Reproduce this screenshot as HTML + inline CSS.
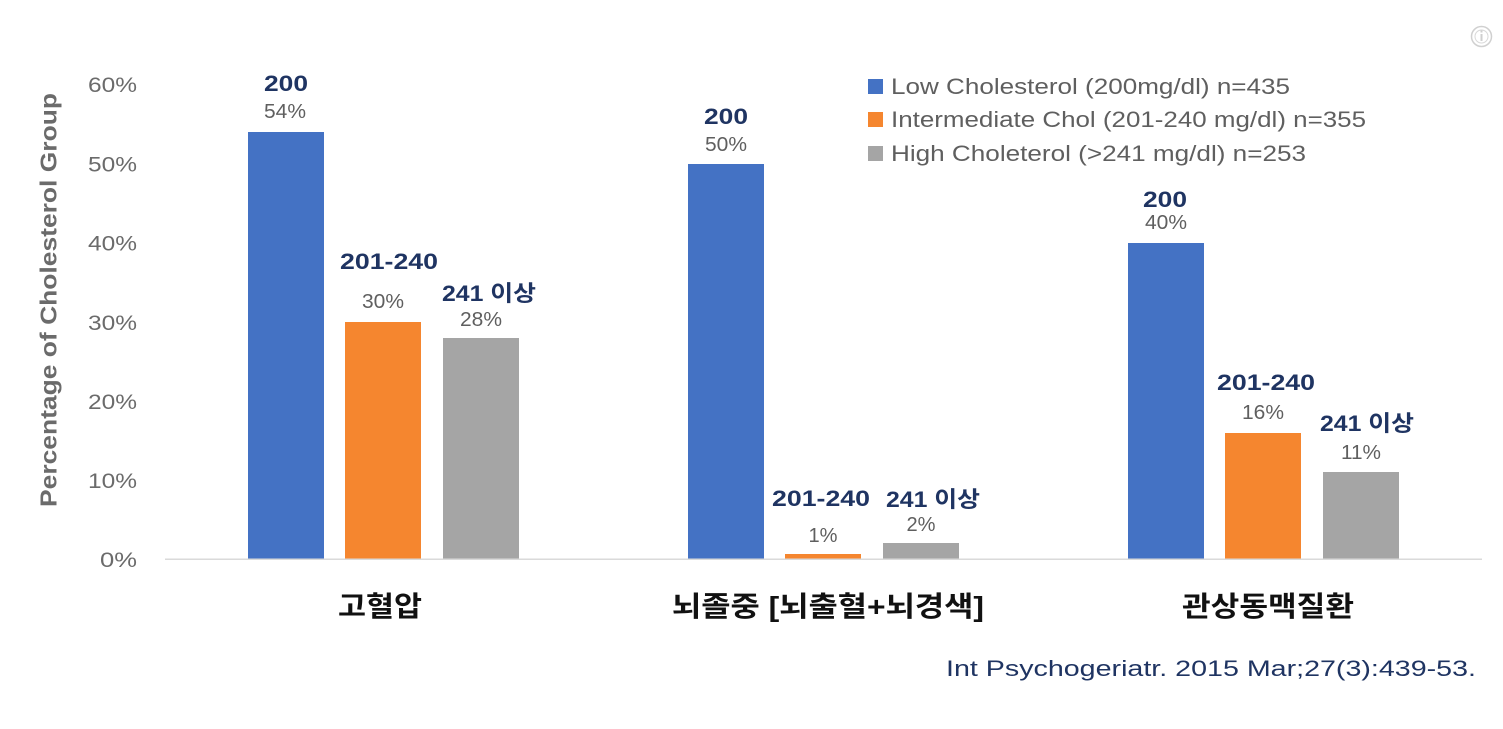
<!DOCTYPE html>
<html>
<head>
<meta charset="utf-8">
<style>
html,body{margin:0;padding:0;background:#ffffff;}
body{width:1503px;height:729px;overflow:hidden;}
svg{display:block;}
.tick{font-family:"Liberation Sans","Noto Sans CJK KR",sans-serif;font-size:21px;fill:#6b6b6b;}
.pct{font-family:"Liberation Sans","Noto Sans CJK KR",sans-serif;font-size:20px;fill:#5f5f5f;}
.grp{font-family:"Liberation Sans","Noto Sans CJK KR",sans-serif;font-size:22px;font-weight:bold;fill:#1f3462;}
.leg{font-family:"Liberation Sans","Noto Sans CJK KR",sans-serif;font-size:22.5px;fill:#5f5f5f;}
.cat{font-family:"Liberation Sans","Noto Sans CJK KR",sans-serif;font-size:28px;font-weight:bold;fill:#111111;}
.cite{font-family:"Liberation Sans","Noto Sans CJK KR",sans-serif;font-size:22px;fill:#1f3462;}
.ytitle{font-family:"Liberation Sans","Noto Sans CJK KR",sans-serif;font-size:23px;font-weight:bold;fill:#6b6b6b;}
</style>
</head>
<body>
<svg width="1503" height="729" viewBox="0 0 1503 729" xmlns="http://www.w3.org/2000/svg">
<rect width="1503" height="729" fill="#ffffff"/>

<!-- info icon -->
<circle cx="1481.5" cy="36.5" r="10" fill="none" stroke="#d0d0d0" stroke-width="1.5"/>
<circle cx="1481.5" cy="36.5" r="6.5" fill="none" stroke="#d8d8d8" stroke-width="1"/>
<rect x="1480.5" y="34" width="2" height="7" fill="#cfcfcf"/>
<rect x="1480.5" y="30.5" width="2" height="2" fill="#cfcfcf"/>

<!-- y axis title -->
<text class="ytitle" transform="translate(56.5,300) rotate(-90)" text-anchor="middle" textLength="414" lengthAdjust="spacingAndGlyphs">Percentage of Cholesterol Group</text>

<!-- y ticks -->
<text class="tick" x="137" y="92" text-anchor="end" textLength="49" lengthAdjust="spacingAndGlyphs">60%</text>
<text class="tick" x="137" y="171.5" text-anchor="end" textLength="49" lengthAdjust="spacingAndGlyphs">50%</text>
<text class="tick" x="137" y="250.5" text-anchor="end" textLength="49" lengthAdjust="spacingAndGlyphs">40%</text>
<text class="tick" x="137" y="330" text-anchor="end" textLength="49" lengthAdjust="spacingAndGlyphs">30%</text>
<text class="tick" x="137" y="409" text-anchor="end" textLength="49" lengthAdjust="spacingAndGlyphs">20%</text>
<text class="tick" x="137" y="488" text-anchor="end" textLength="49" lengthAdjust="spacingAndGlyphs">10%</text>
<text class="tick" x="137" y="567" text-anchor="end" textLength="37" lengthAdjust="spacingAndGlyphs">0%</text>

<!-- bars group 1 -->
<rect x="248" y="132" width="76" height="427" fill="#4472c4"/>
<rect x="345" y="322" width="76" height="237" fill="#f5862f"/>
<rect x="443" y="338" width="76" height="221" fill="#a5a5a5"/>
<!-- bars group 2 -->
<rect x="688" y="164" width="76" height="395" fill="#4472c4"/>
<rect x="785" y="554" width="76" height="5" fill="#f5862f"/>
<rect x="883" y="543" width="76" height="16" fill="#a5a5a5"/>
<!-- bars group 3 -->
<rect x="1128" y="243" width="76" height="316" fill="#4472c4"/>
<rect x="1225" y="433" width="76" height="126" fill="#f5862f"/>
<rect x="1323" y="472" width="76" height="87" fill="#a5a5a5"/>

<!-- axis line -->
<rect x="165" y="558.5" width="1317" height="1.5" fill="#dadada"/>

<!-- data labels group 1 -->
<text class="grp" x="286" y="91" text-anchor="middle" textLength="44" lengthAdjust="spacingAndGlyphs">200</text>
<text class="pct" x="285" y="118" text-anchor="middle" textLength="42" lengthAdjust="spacingAndGlyphs">54%</text>
<text class="grp" x="389" y="269" text-anchor="middle" textLength="98" lengthAdjust="spacingAndGlyphs">201-240</text>
<text class="pct" x="383" y="308" text-anchor="middle" textLength="42" lengthAdjust="spacingAndGlyphs">30%</text>
<text class="grp" x="489" y="301" text-anchor="middle" textLength="94" lengthAdjust="spacingAndGlyphs">241 이상</text>
<text class="pct" x="481" y="326" text-anchor="middle" textLength="42" lengthAdjust="spacingAndGlyphs">28%</text>

<!-- data labels group 2 -->
<text class="grp" x="726" y="124" text-anchor="middle" textLength="44" lengthAdjust="spacingAndGlyphs">200</text>
<text class="pct" x="726" y="151" text-anchor="middle" textLength="42" lengthAdjust="spacingAndGlyphs">50%</text>
<text class="grp" x="821" y="506" text-anchor="middle" textLength="98" lengthAdjust="spacingAndGlyphs">201-240</text>
<text class="pct" x="823" y="542" text-anchor="middle" textLength="29" lengthAdjust="spacingAndGlyphs">1%</text>
<text class="grp" x="933" y="507" text-anchor="middle" textLength="94" lengthAdjust="spacingAndGlyphs">241 이상</text>
<text class="pct" x="921" y="531" text-anchor="middle" textLength="29" lengthAdjust="spacingAndGlyphs">2%</text>

<!-- data labels group 3 -->
<text class="grp" x="1165" y="207" text-anchor="middle" textLength="44" lengthAdjust="spacingAndGlyphs">200</text>
<text class="pct" x="1166" y="229" text-anchor="middle" textLength="42" lengthAdjust="spacingAndGlyphs">40%</text>
<text class="grp" x="1266" y="390" text-anchor="middle" textLength="98" lengthAdjust="spacingAndGlyphs">201-240</text>
<text class="pct" x="1263" y="419" text-anchor="middle" textLength="42" lengthAdjust="spacingAndGlyphs">16%</text>
<text class="grp" x="1367" y="431" text-anchor="middle" textLength="94" lengthAdjust="spacingAndGlyphs">241 이상</text>
<text class="pct" x="1361" y="459" text-anchor="middle" textLength="40" lengthAdjust="spacingAndGlyphs">11%</text>

<!-- legend -->
<rect x="868" y="79" width="15" height="15" fill="#4472c4"/>
<text class="leg" x="891" y="94" textLength="399" lengthAdjust="spacingAndGlyphs">Low Cholesterol (200mg/dl)  n=435</text>
<rect x="868" y="112" width="15" height="15" fill="#f5862f"/>
<text class="leg" x="891" y="127" textLength="475" lengthAdjust="spacingAndGlyphs">Intermediate Chol (201-240 mg/dl) n=355</text>
<rect x="868" y="146" width="15" height="15" fill="#a5a5a5"/>
<text class="leg" x="891" y="161" textLength="415" lengthAdjust="spacingAndGlyphs">High Choleterol (&gt;241 mg/dl)  n=253</text>

<!-- category labels -->
<text class="cat" x="380" y="616" text-anchor="middle" textLength="84" lengthAdjust="spacingAndGlyphs">고혈압</text>
<text class="cat" x="828" y="616" text-anchor="middle" textLength="312" lengthAdjust="spacingAndGlyphs">뇌졸중 [뇌출혈+뇌경색]</text>
<text class="cat" x="1268" y="616" text-anchor="middle" textLength="172" lengthAdjust="spacingAndGlyphs">관상동맥질환</text>

<!-- citation -->
<text class="cite" x="946" y="676" textLength="530" lengthAdjust="spacingAndGlyphs">Int Psychogeriatr. 2015 Mar;27(3):439-53.</text>
</svg>
</body>
</html>
